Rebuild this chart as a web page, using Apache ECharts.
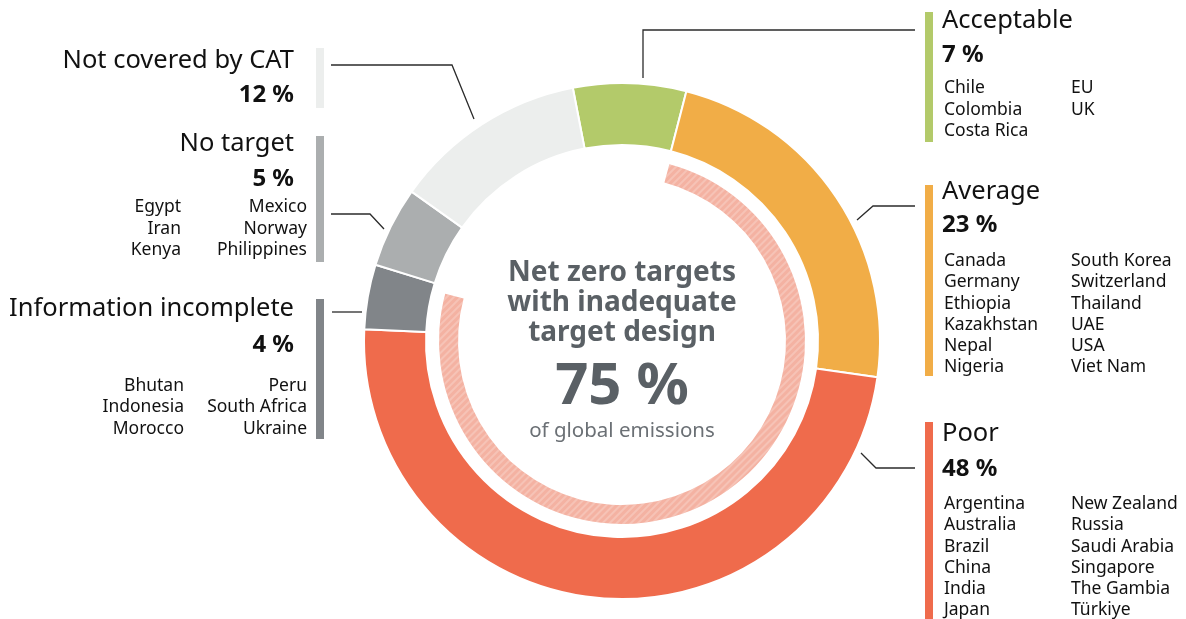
<!DOCTYPE html>
<html><head><meta charset="utf-8">
<script src="https://cdn.jsdelivr.net/npm/echarts@6/dist/echarts.min.js"></script>
<style>html,body{margin:0;padding:0;background:#fff}#c{width:1186px;height:619px}</style>
</head><body><div id="c"></div>
<script>
// ---- data ----
const categories = ['Acceptable','Average','Poor','Information incomplete','No target','Not covered by CAT'];
const shares = [7, 23, 48, 4, 5, 12];
const inadequateShare = 75;
const acceptableCountries = [['Chile','Colombia','Costa Rica'],['EU','UK']];
const averageCountries = [['Canada','Germany','Ethiopia','Kazakhstan','Nepal','Nigeria'],['South Korea','Switzerland','Thailand','UAE','USA','Viet Nam']];
const poorCountries = [['Argentina','Australia','Brazil','China','India','Japan'],['New Zealand','Russia','Saudi Arabia','Singapore','The Gambia','Türkiye']];
const incompleteCountries = [['Bhutan','Indonesia','Morocco'],['Peru','South Africa','Ukraine']];
const noTargetCountries = [['Egypt','Iran','Kenya'],['Mexico','Norway','Philippines']];

const colors = ['#b3ca6a','#f1ad47','#ef6b4c','#818589','#abaeaf','#eceeed'];
const FONT = '"Noto Sans", sans-serif';
const chart = echarts.init(document.getElementById('c'), null, {renderer:'canvas'});

const g = [];
function txt(x,y,s,opt){ g.push({type:'text', x:x, y:y, silent:true, style:Object.assign({text:s, fill:'#111', font:'17.5px '+FONT, textAlign:'left', textVerticalAlign:'middle'}, opt||{})}); }
function bar(x,y1,y2,c){ g.push({type:'rect', silent:true, shape:{x:x,y:y1,width:8,height:y2-y1}, style:{fill:c}}); }
function line(pts){ g.push({type:'polyline', silent:true, shape:{points:pts}, style:{stroke:'#2b2b2b', lineWidth:1.3, fill:null}}); }

function block(side, idx, yTitle, yPct, yList, list, col1, col2, barX, barY1, barY2){
  const align = side==='right' ? 'left' : 'right';
  const tx = side==='right' ? 942 : 294;
  txt(tx, yTitle, categories[idx], {font:'25.5px '+FONT, textAlign:align});
  txt(tx, yPct, shares[idx]+' %', {font:'bold 24px '+FONT, textAlign:align});
  if(list){
    list[0].forEach((s,i)=>txt(col1, yList+i*21.3, s, {textAlign:align}));
    list[1].forEach((s,i)=>txt(col2, yList+i*21.3, s, {textAlign:align}));
  }
  bar(barX, barY1, barY2, colors[idx]);
}
block('right',0,21,55,88.5,acceptableCountries,944,1071,925,12,142);
block('right',1,192,225.5,261,averageCountries,944,1071,925,185,376);
block('right',2,434,469,504,poorCountries,944,1071,925,422,619);
block('left',5,61,95.5,null,null,0,0,316,48,108);
block('left',4,143.5,179,207.5,noTargetCountries,181,307,316,136,262);
block('left',3,309,345,386,incompleteCountries,184,307,316,299,439);

line([[643,78],[643,30],[915,30]]);
line([[857,220],[873,206],[915,206]]);
line([[861,453],[876,468],[915,468]]);
line([[331,65],[452,65],[474,119]]);
line([[331,214],[370,214],[384,229]]);
line([[332,312],[362,312]]);

const cc = '#5a6065';
txt(622,273,'Net zero targets',{font:'bold 28px '+FONT, textAlign:'center', fill:cc});
txt(622,303,'with inadequate',{font:'bold 28px '+FONT, textAlign:'center', fill:cc});
txt(622,333,'target design',{font:'bold 28px '+FONT, textAlign:'center', fill:cc});
txt(622,387,inadequateShare+' %',{font:'bold 58px '+FONT, textAlign:'center', fill:cc});
txt(622,431,'of global emissions',{font:'20.5px '+FONT, textAlign:'center', fill:'#6b7075'});

chart.setOption({
  animation:false,
  series:[
    {type:'pie', center:[622,341], radius:[196,258], startAngle:101, clockwise:true, silent:true,
     label:{show:false}, labelLine:{show:false},
     itemStyle:{borderColor:'#fff', borderWidth:2},
     data: categories.map((c,i)=>({name:c, value:shares[i], itemStyle:{color:colors[i]}}))},
    {type:'pie', center:[622,341], radius:[164,183], startAngle:75, clockwise:true, silent:true,
     label:{show:false}, labelLine:{show:false},
     data:[
       {name:'inadequate', value:inadequateShare, itemStyle:{color:'#f4b2a2',
         decal:{symbol:'rect', symbolSize:1, dashArrayX:[[1,0]], dashArrayY:[2,3], rotation:-Math.PI/4, color:'rgba(255,255,255,0.22)'}}},
       {name:'rest', value:100-inadequateShare, itemStyle:{color:'rgba(0,0,0,0)'}}
     ]}
  ],
  graphic:g
});
</script></body></html>
